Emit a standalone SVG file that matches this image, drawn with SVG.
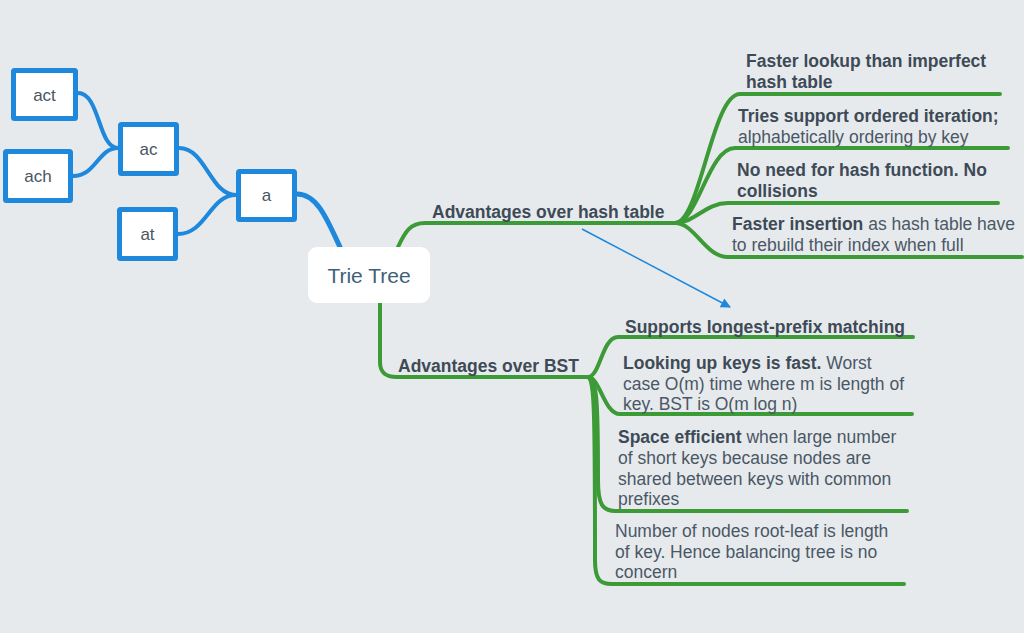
<svg xmlns="http://www.w3.org/2000/svg" width="1024" height="633" viewBox="0 0 1024 633">
<defs>
<style>
.bg{fill:#e7eaed}
.box{fill:#ffffff;stroke:#1d88dc;stroke-width:5}
.root{fill:#ffffff}
.bl{fill:none;stroke:#1d88dc;stroke-width:4;stroke-linecap:round}
.gl{fill:none;stroke:#3c9a37;stroke-width:4;stroke-linecap:round}
.lbl{font-family:"Liberation Sans",Arial,sans-serif;font-size:17px;fill:#4a5563;text-anchor:middle}
.rt{font-family:"Liberation Sans",Arial,sans-serif;font-size:21px;fill:#3f5f78;text-anchor:middle}
.t{font-family:"Liberation Sans",Arial,sans-serif;font-size:17.5px;fill:#4a5866}
.b{font-weight:bold;fill:#3e4b57}
</style>
<marker id="ah" viewBox="0 0 10 10" refX="9" refY="5" markerWidth="11" markerHeight="10" orient="auto" markerUnits="userSpaceOnUse">
<path d="M0,0 L10,5 L0,10 z" fill="#1d88dc"/>
</marker>
</defs>
<rect class="bg" x="0" y="0" width="1024" height="633"/>
<g id="connectors">
<path class="bl" d="M78,93 C100,93 98,148 118,148"/>
<path class="bl" d="M73,176 C96,176 98,148 118,148"/>
<path class="bl" d="M179,148 C206,148 210,195 236,195"/>
<path class="bl" d="M178,234 C206,234 210,195 236,195"/>
<path class="bl" style="stroke-width:5" d="M297,194 C318,194 328,222 340,247"/>
<path class="gl" d="M398,247 C405,232 410,223 425,223 L675,223"/>
<path class="gl" d="M380,302 L380,362 C380,372 385,377 397,377 L588,377"/>
<path class="gl" d="M675,223 C700,223 712,94 740,94 L1000,94"/>
<path class="gl" d="M675,223 C698,223 708,148 735,148 L1008,148"/>
<path class="gl" d="M675,223 C695,223 705,203 728,203 L998,203"/>
<path class="gl" d="M675,223 C695,223 705,257 728,257 L1022,257"/>
<path class="gl" d="M588,377 C600,377 602,337 618,337 L913,337"/>
<path class="gl" d="M588,377 C600,377 604,414 620,414 L912,414"/>
<path class="gl" d="M588,377 C597,380 598,400 598,480 C598,505 603,511 615,511 L907,511"/>
<path class="gl" d="M588,377 C594,380 595,400 595,560 C595,580 600,584 612,584 L904,584"/>
<path fill="none" stroke="#1d88dc" stroke-width="1.5" marker-end="url(#ah)" d="M582,229 L730,307"/>
</g>
<g id="node-act"><rect class="box" x="13.5" y="70.5" width="62" height="48" rx="1"/><text class="lbl" x="44.5" y="101">act</text></g>
<g id="node-ach"><rect class="box" x="5.5" y="151.5" width="65" height="49" rx="1"/><text class="lbl" x="38" y="182">ach</text></g>
<g id="node-ac"><rect class="box" x="120.5" y="124.5" width="56" height="49" rx="1"/><text class="lbl" x="148.5" y="155">ac</text></g>
<g id="node-at"><rect class="box" x="119.5" y="209.5" width="56" height="49" rx="1"/><text class="lbl" x="147.5" y="240">at</text></g>
<g id="node-a"><rect class="box" x="238.5" y="171.5" width="56" height="48" rx="1"/><text class="lbl" x="266.5" y="201">a</text></g>
<g id="node-root"><rect class="root" x="308" y="247" width="122" height="56" rx="9"/><text class="rt" x="369" y="283">Trie Tree</text></g>
<g id="node-hash"><text class="t b" x="432" y="218">Advantages over hash table</text></g>
<g id="node-bst"><text class="t b" x="398" y="372">Advantages over BST</text></g>
<g id="node-h1"><text class="t b" x="746" y="67">Faster lookup than imperfect</text><text class="t b" x="746" y="88">hash table</text></g>
<g id="node-h2"><text class="t b" x="738" y="122">Tries support ordered iteration;</text><text class="t" x="738" y="143">alphabetically ordering by key</text></g>
<g id="node-h3"><text class="t b" x="737" y="176">No need for hash function. No</text><text class="t b" x="737" y="197">collisions</text></g>
<g id="node-h4"><text class="t" x="732" y="230"><tspan class="b">Faster insertion</tspan> as hash table have</text><text class="t" x="732" y="251">to rebuild their index when full</text></g>
<g id="node-b1"><text class="t b" x="625" y="333">Supports longest-prefix matching</text></g>
<g id="node-b2"><text class="t" x="623" y="369"><tspan class="b">Looking up keys is fast.</tspan> Worst</text><text class="t" x="623" y="390">case O(m) time where m is length of</text><text class="t" x="623" y="410">key. BST is O(m log n)</text></g>
<g id="node-b3"><text class="t" x="618" y="443"><tspan class="b">Space efficient</tspan> when large number</text><text class="t" x="618" y="464">of short keys because nodes are</text><text class="t" x="618" y="485">shared between keys with common</text><text class="t" x="618" y="505">prefixes</text></g>
<g id="node-b4"><text class="t" x="615" y="537">Number of nodes root-leaf is length</text><text class="t" x="615" y="558">of key. Hence balancing tree is no</text><text class="t" x="615" y="578">concern</text></g>
</svg>
